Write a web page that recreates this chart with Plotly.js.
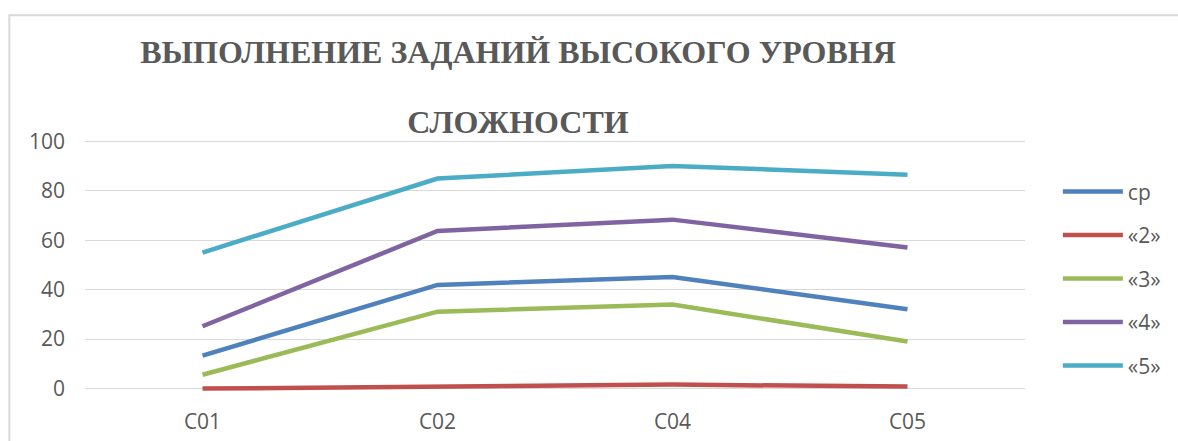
<!DOCTYPE html>
<html>
<head>
<meta charset="utf-8">
<script src="https://cdn.plot.ly/plotly-3.0.1.min.js"></script>
<style>
html,body{margin:0;padding:0;background:#fff;}
#chart{width:1178px;height:441px;}
</style>
</head>
<body>
<div id="chart"></div>
<script>
const categories = ['C01', 'C02', 'C04', 'C05'];
const seriesNames = ['ср', '«2»', '«3»', '«4»', '«5»'];
const valSr = [13.3, 41.9, 45.1, 32.1];
const val2 = [0, 1.0, 1.6, 0.8];
const val3 = [5.6, 31.1, 34.0, 19.0];
const val4 = [25.2, 63.7, 68.3, 57.0];
const val5 = [55.0, 84.9, 90.0, 86.5];
const yTicks = [0, 20, 40, 60, 80, 100];
const titleLine1 = 'ВЫПОЛНЕНИЕ ЗАДАНИЙ ВЫСОКОГО УРОВНЯ';
const titleLine2 = 'СЛОЖНОСТИ';

const colors = ['#4F81BD', '#C0504D', '#9BBB59', '#8064A2', '#4BACC6'];
const allVals = [valSr, val2, val3, val4, val5];
const sansFont = 'Open Sans';
const serifFont = 'Liberation Serif';

const traces = allVals.map((v, i) => ({
  type: 'scatter',
  mode: 'lines',
  x: categories,
  y: v,
  name: seriesNames[i],
  legendgroup: 'g' + i,
  line: {color: colors[i], width: 4.5},
  hoverinfo: 'skip'
}));

const W = 1178, H = 441;
const mL = 85, mR = 149, mT = 139.5, mB = 44.8;
const pw = W - mL - mR, ph = H - mT - mB;
const px2x = p => (p - mL) / pw;
const py2y = p => (H - mB - p) / ph;

const titleFont = {family: serifFont, size: 32, color: '#595959', weight: 'bold'};

const layout = {
  width: W, height: H,
  margin: {l: mL, r: mR, t: mT, b: mB, pad: 0},
  paper_bgcolor: '#ffffff',
  plot_bgcolor: '#ffffff',
  showlegend: true,
  title: {
    text: titleLine1,
    font: titleFont,
    x: 518 / W, xanchor: 'center', xref: 'container',
    y: 1 - 52 / H, yanchor: 'middle', yref: 'container',
    subtitle: {text: titleLine2, font: titleFont}
  },
  xaxis: {
    type: 'category',
    range: [-0.5, 3.5],
    showgrid: false, zeroline: false, showline: false,
    ticks: '',
    ticklabelstandoff: 11,
    tickfont: {family: sansFont, size: 21, color: '#595959'},
    fixedrange: true
  },
  yaxis: {
    range: [-3, 100.5],
    tickmode: 'array',
    tickvals: yTicks,
    ticktext: yTicks.map(String),
    showgrid: true, gridcolor: '#d9d9d9', gridwidth: 1.3,
    zeroline: false, showline: false,
    ticks: '',
    ticklabelstandoff: 19,
    tickfont: {family: sansFont, size: 21, color: '#595959'},
    fixedrange: true
  },
  legend: {
    x: px2x(1062), xanchor: 'left',
    y: py2y(171), yanchor: 'top',
    bgcolor: 'rgba(0,0,0,0)',
    itemwidth: 60,
    tracegroupgap: 13.2,
    font: {family: sansFont, size: 21, color: '#595959'}
  },
  shapes: [{
    type: 'rect', xref: 'paper', yref: 'paper',
    x0: px2x(9), x1: px2x(1190),
    y0: py2y(450), y1: py2y(14.5),
    line: {color: '#d9d9d9', width: 2},
    fillcolor: 'rgba(0,0,0,0)',
    layer: 'below'
  }]
};

Plotly.newPlot('chart', traces, layout, {displayModeBar: false});
</script>
</body>
</html>
